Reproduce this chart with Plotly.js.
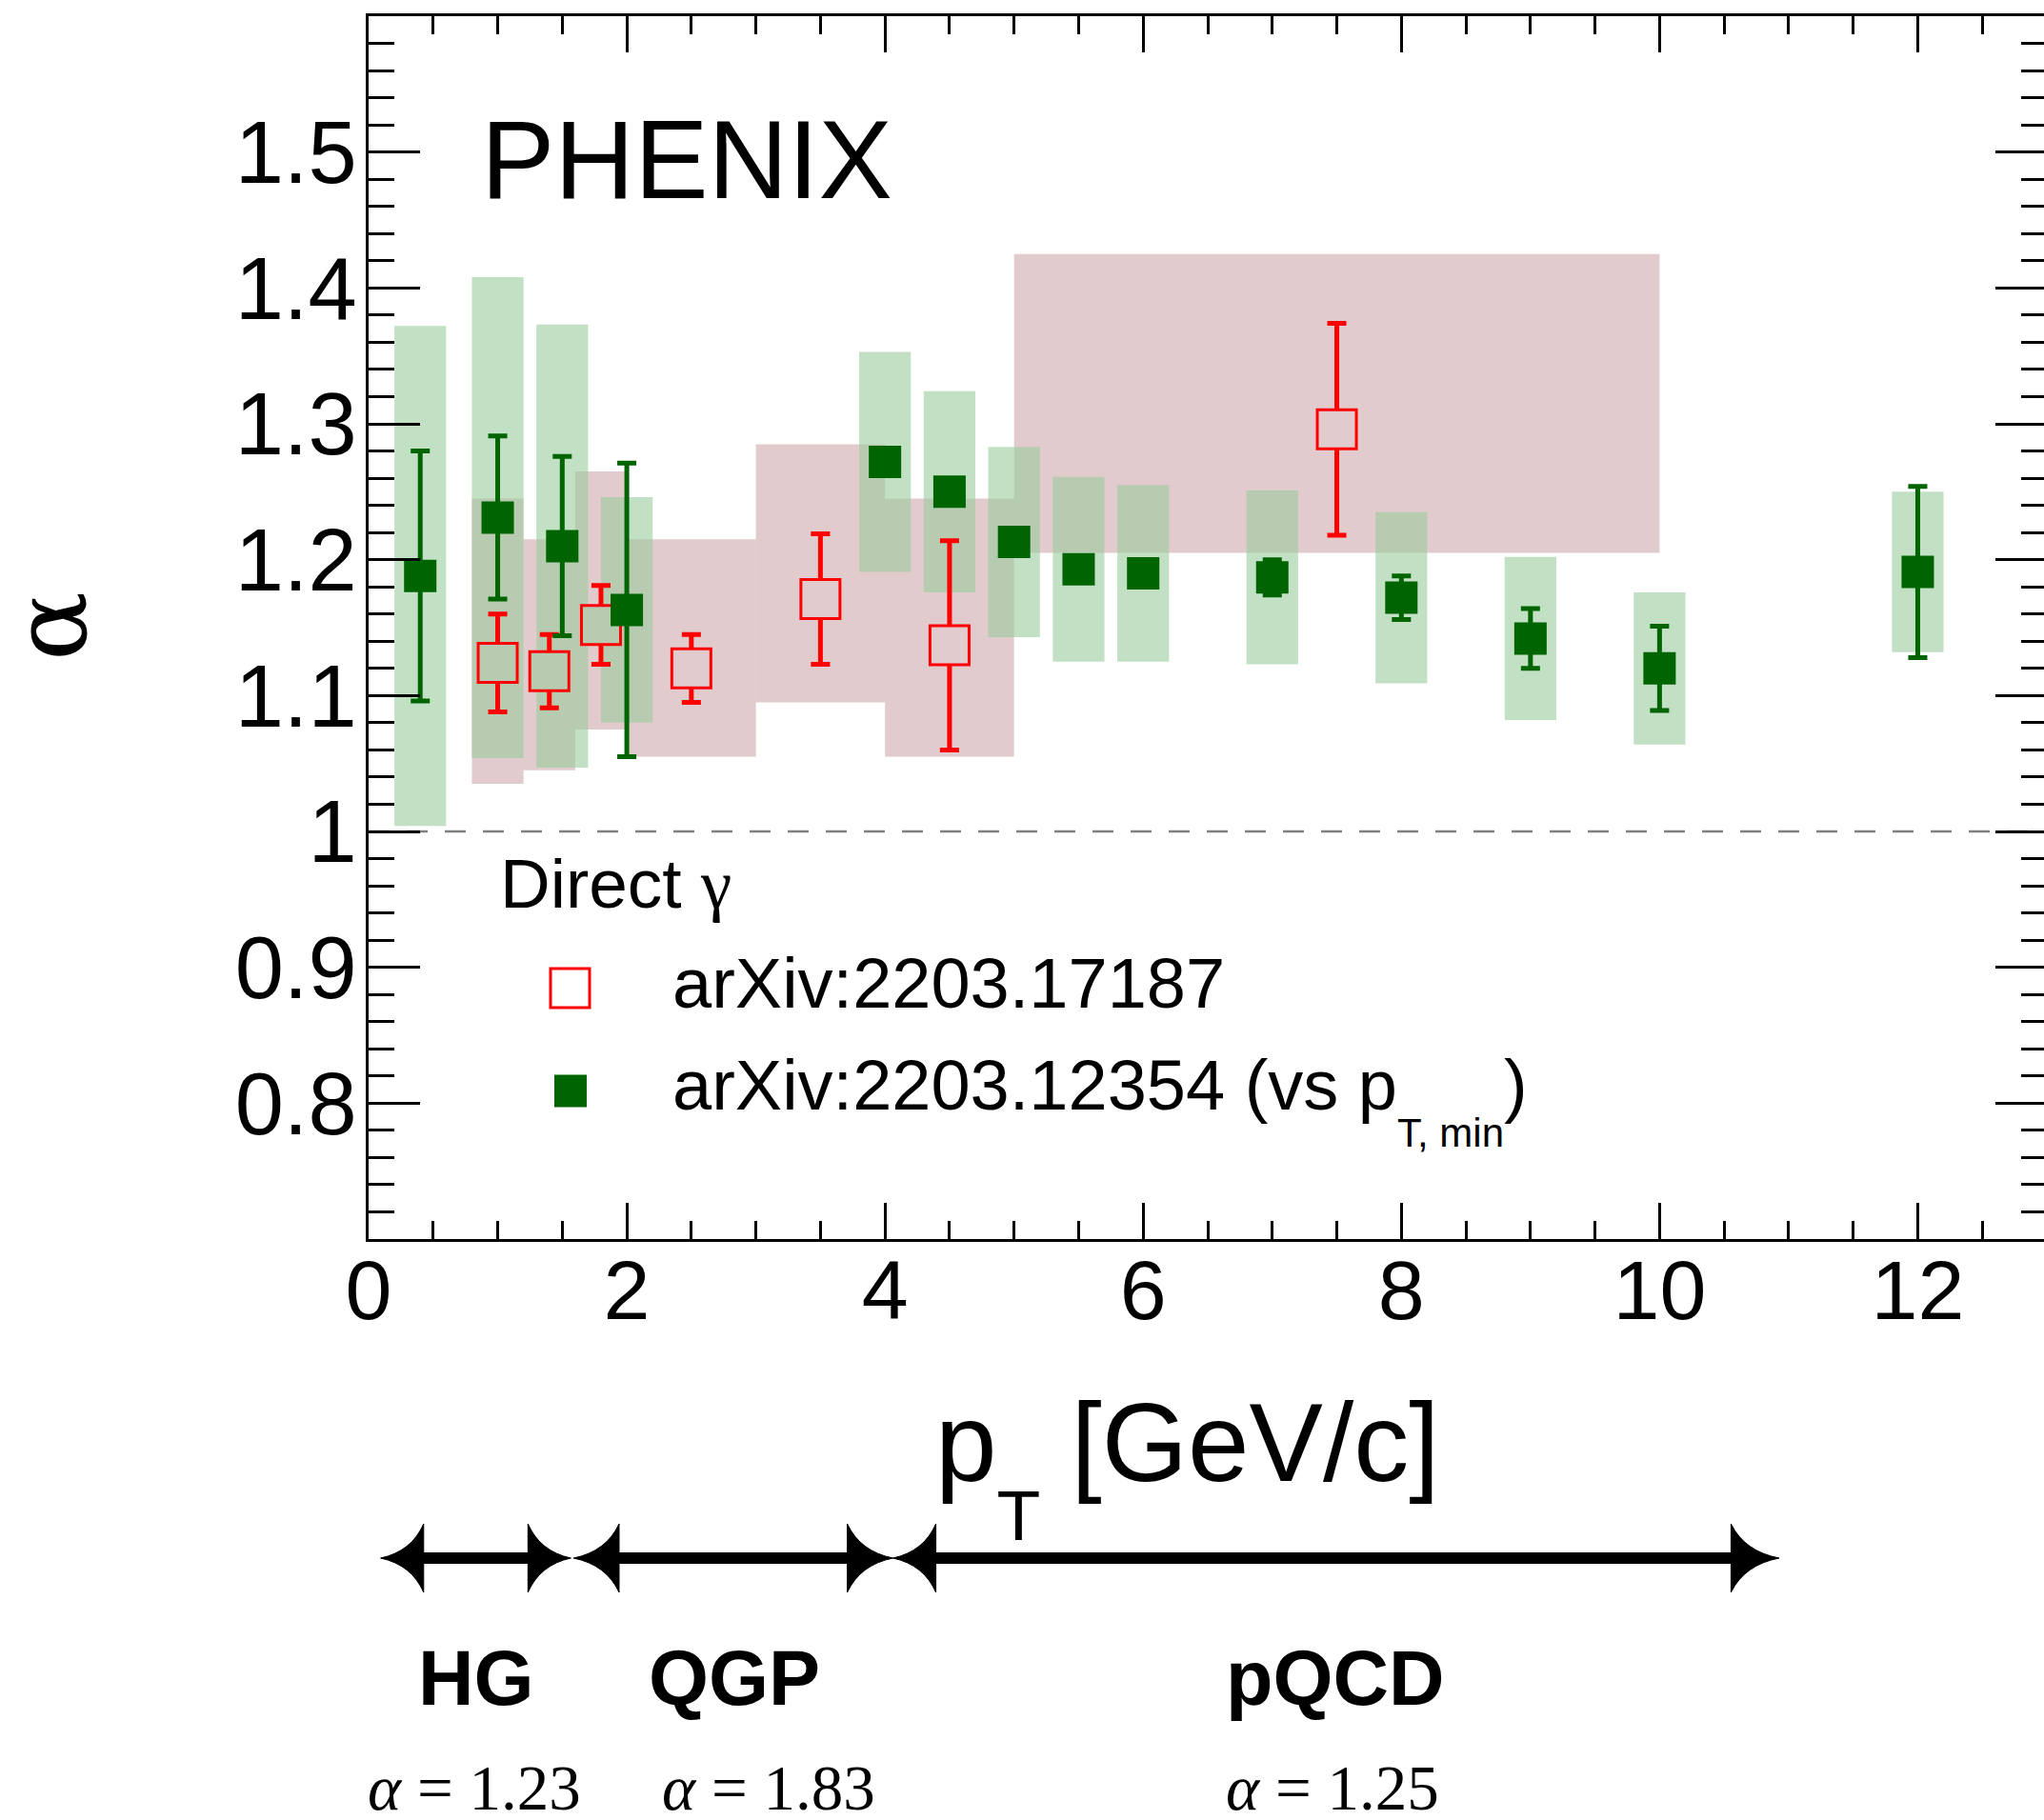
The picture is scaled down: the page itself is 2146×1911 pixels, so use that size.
<!DOCTYPE html>
<html>
<head>
<meta charset="utf-8">
<script src="https://cdn.plot.ly/plotly-3.0.1.min.js"></script>
<style>
html,body{margin:0;padding:0;overflow:hidden;background:#fff;}
#chart{width:2150px;height:1911px;}
</style>
</head>
<body>
<div id="chart"></div>
<script>
// ---------------- data ----------------
// arXiv:2203.17187 (red open squares): pT, alpha, stat error, systematic box (bin edges, low/high)
const redX      = [1.0, 1.4, 1.8, 2.5, 3.5, 4.5, 7.5];
const redY      = [1.124, 1.118, 1.152, 1.120, 1.171, 1.137, 1.296];
const redStat   = [0.036, 0.027, 0.029, 0.025, 0.048, 0.077, 0.078];
const redBinLo  = [0.8, 1.2, 1.6, 2.0, 3.0, 4.0, 5.0];
const redBinHi  = [1.2, 1.6, 2.0, 3.0, 4.0, 5.0, 10.0];
const redSysLo  = [1.035, 1.045, 1.075, 1.055, 1.095, 1.055, 1.205];
const redSysHi  = [1.245, 1.215, 1.265, 1.215, 1.285, 1.245, 1.425];

// arXiv:2203.12354 (green filled squares, vs pT,min): pT, alpha, stat error, systematic error
const greenX    = [0.4, 1.0, 1.5, 2.0, 4.0, 4.5, 5.0, 5.5, 6.0, 7.0, 8.0, 9.0, 10.0, 12.0];
const greenY    = [1.188, 1.231, 1.210, 1.163, 1.272, 1.250, 1.213, 1.193, 1.190, 1.187, 1.172, 1.142, 1.120, 1.191];
const greenStat = [0.092, 0.060, 0.066, 0.108, 0.008, 0.008, 0.008, 0.008, 0.008, 0.013, 0.016, 0.022, 0.031, 0.063];
const greenSys  = [0.184, 0.177, 0.163, 0.083, 0.081, 0.074, 0.070, 0.068, 0.065, 0.064, 0.063, 0.060, 0.056, 0.059];
const greenBoxHalfWidth = 0.2;

// axis ticks and titles
const xTickVals = [0, 2, 4, 6, 8, 10, 12];
const xTickText = ['0', '2', '4', '6', '8', '10', '12'];
const yTickVals = [0.8, 0.9, 1.0, 1.1, 1.2, 1.3, 1.4, 1.5];
const yTickText = ['0.8', '0.9', '1', '1.1', '1.2', '1.3', '1.4', '1.5'];
const xTitle = 'p<sub><sub><sub><sub><span style="font-size:75px">T</span></sub></sub></sub></sub> [GeV/c]';
const yTitle = 'α';

// regime labels under the axis
const regimeNames  = ['HG', 'QGP', 'pQCD'];
const regimeAlphas = ['1.23', '1.83', '1.25'];

// ---------------- layout helpers ----------------
const W = 2150, H = 1911;
const M = {l: 387, r: 1, t: 17, b: 610};
const PW = W - M.l - M.r, PH = H - M.t - M.b;
const px = x => (x - M.l) / PW;
const py = y => (H - M.b - y) / PH;
const f = v => v.toFixed(5);

const PINK = 'rgba(158,82,85,0.3)';
const GREEN_BOX = 'rgba(153,203,157,0.6)';
const PINK_SOLID = 'rgb(226,203,204)';
const OVERLAP_SOLID = 'rgb(182,203,176)';
const DKGREEN = '#006400';
const RED = '#ff0000';
const SANS = 'Liberation Sans, Arial, sans-serif';
const SERIF = 'Liberation Serif, Times New Roman, serif';

function inGreenBox(x, y) {
  return greenX.some((gx, i) => Math.abs(x - gx) <= greenBoxHalfWidth + 1e-9 &&
    y >= greenY[i] - greenSys[i] && y <= greenY[i] + greenSys[i]);
}
const redFill = redX.map((x, i) => inGreenBox(x, redY[i]) ? OVERLAP_SOLID : PINK_SOLID);

// ---------------- shapes ----------------
const shapes = [];
redX.forEach((x, i) => shapes.push({
  type: 'rect', xref: 'x', yref: 'y', layer: 'below',
  x0: redBinLo[i], x1: redBinHi[i], y0: redSysLo[i], y1: redSysHi[i],
  fillcolor: PINK, line: {width: 0}
}));
greenX.forEach((x, i) => shapes.push({
  type: 'rect', xref: 'x', yref: 'y', layer: 'below',
  x0: x - greenBoxHalfWidth, x1: x + greenBoxHalfWidth,
  y0: greenY[i] - greenSys[i], y1: greenY[i] + greenSys[i],
  fillcolor: GREEN_BOX, line: {width: 0}
}));
// reference line alpha = 1
shapes.push({type: 'line', xref: 'paper', yref: 'y', x0: 0, x1: 1, y0: 1, y1: 1,
  line: {color: '#808080', width: 2.5, dash: '22px,18px'}, layer: 'below'});

// legend glyphs
shapes.push({type: 'rect', xref: 'paper', yref: 'paper',
  x0: px(598.5 - 20.5), x1: px(598.5 + 20.5), y0: py(1037.5 + 20.5), y1: py(1037.5 - 20.5),
  fillcolor: 'rgba(0,0,0,0)', line: {color: RED, width: 3}});
shapes.push({type: 'rect', xref: 'paper', yref: 'paper',
  x0: px(599 - 17), x1: px(599 + 17), y0: py(1145.5 + 17), y1: py(1145.5 - 17),
  fillcolor: DKGREEN, line: {width: 0}});

// double arrows below the axis: [left tip, left head base, right head base, right tip] in px
const arrowGeom = [[399.6, 444.8, 554.3, 599.4], [602.2, 650, 889.6, 937.5], [937.5, 982.6, 1817.4, 1868]];
const ACY = 1636, AHH = 36;
arrowGeom.forEach(([lt, lb, rb, rt]) => {
  shapes.push({type: 'line', xref: 'paper', yref: 'paper',
    x0: px(lb - 2), x1: px(rb + 2), y0: py(ACY), y1: py(ACY), line: {color: 'black', width: 12}});
  const head = (tip, base) => {
    const c = tip + 0.72 * (base - tip);
    return 'M' + f(px(tip)) + ',' + f(py(ACY)) +
      ' Q' + f(px(c)) + ',' + f(py(ACY - 7)) + ' ' + f(px(base)) + ',' + f(py(ACY - AHH)) +
      ' L' + f(px(base)) + ',' + f(py(ACY + AHH)) +
      ' Q' + f(px(c)) + ',' + f(py(ACY + 7)) + ' ' + f(px(tip)) + ',' + f(py(ACY)) + ' Z';
  };
  shapes.push({type: 'path', xref: 'paper', yref: 'paper', path: head(lt, lb), fillcolor: 'black', line: {color: 'black', width: 1}});
  shapes.push({type: 'path', xref: 'paper', yref: 'paper', path: head(rt, rb), fillcolor: 'black', line: {color: 'black', width: 1}});
});

// ---------------- annotations ----------------
const ann = (x, y, text, size, opts) => Object.assign({
  xref: 'paper', yref: 'paper', x: px(x), y: py(y), xanchor: 'left', yanchor: 'top',
  text: text, showarrow: false, font: {family: SANS, size: size, color: 'black'}
}, opts || {});

const annotations = [
  ann(503, 101, 'PHENIX', 116),
  ann(522.5, 885.5, 'Direct <span style="font-family:Liberation Serif">γ</span>', 73),
  ann(704.4, 989, 'arXiv:2203.17187', 74),
  ann(704.4, 1096, 'arXiv:2203.12354 (vs p<sub><sub><sub><sub><span style="font-size:42px">T, min</span></sub></sub></sub></sub>)', 74),
  // axis titles
  ann(1246, 1448, xTitle, 116, {xanchor: 'center'}),
  ann(52.5, 657.5, yTitle, 108, {xanchor: 'center', yanchor: 'middle', textangle: -90,
    font: {family: 'DejaVu Serif, serif', size: 108, color: 'black'}})
];
const regimeX = [500, 771, 1401];
const alphaX = [498, 807, 1399];
regimeNames.forEach((n, i) => {
  annotations.push(ann(regimeX[i], 1714.7, '<b>' + n + '</b>', 81, {xanchor: 'center'}));
  annotations.push(ann(alphaX[i], 1838, '<i>α</i> = ' + regimeAlphas[i], 67,
    {xanchor: 'center', font: {family: SERIF, size: 67, color: 'black'}}));
});

// ---------------- traces ----------------
const traces = [
  {
    type: 'scatter', mode: 'markers', name: 'arXiv:2203.17187',
    x: redX, y: redY,
    error_y: {type: 'data', array: redStat, visible: true, color: RED, thickness: 5, width: 10},
    marker: {symbol: 'square', size: 41, color: redFill, line: {color: RED, width: 3}},
    showlegend: false, hoverinfo: 'skip'
  },
  {
    type: 'scatter', mode: 'markers', name: 'arXiv:2203.12354 (vs pT, min)',
    x: greenX, y: greenY,
    error_y: {type: 'data', array: greenStat, visible: true, color: DKGREEN, thickness: 5, width: 10},
    marker: {symbol: 'square', size: 34, color: DKGREEN, line: {width: 0}},
    showlegend: false, hoverinfo: 'skip'
  }
];

const axisCommon = {
  showgrid: false, zeroline: false, showline: true, linecolor: 'black', linewidth: 3,
  mirror: 'ticks', ticks: 'inside', tickcolor: 'black', tickwidth: 3
};

const layout = {
  width: W, height: H,
  margin: M,
  paper_bgcolor: 'white', plot_bgcolor: 'white',
  font: {family: SANS, color: 'black'},
  showlegend: false,
  xaxis: Object.assign({}, axisCommon, {
    range: [0, 13], tickmode: 'array', tickvals: xTickVals, ticktext: xTickText,
    ticklen: 38, ticklabelstandoff: -25,
    tickfont: {family: SANS, size: 88, color: 'black'},
    minor: {tickmode: 'linear', tick0: 0, dtick: 0.5, ticks: 'inside', ticklen: 19, tickwidth: 3, tickcolor: 'black'}
  }),
  yaxis: Object.assign({}, axisCommon, {
    range: [0.7, 1.6], tickmode: 'array', tickvals: yTickVals, ticktext: yTickText,
    ticklen: 54, ticklabelstandoff: -9,
    tickfont: {family: SANS, size: 92, color: 'black'},
    minor: {tickmode: 'linear', tick0: 0.7, dtick: 0.02, ticks: 'inside', ticklen: 27, tickwidth: 3, tickcolor: 'black'}
  }),
  shapes: shapes,
  annotations: annotations
};

Plotly.newPlot('chart', traces, layout, {staticPlot: true, displayModeBar: false});
</script>
</body>
</html>
